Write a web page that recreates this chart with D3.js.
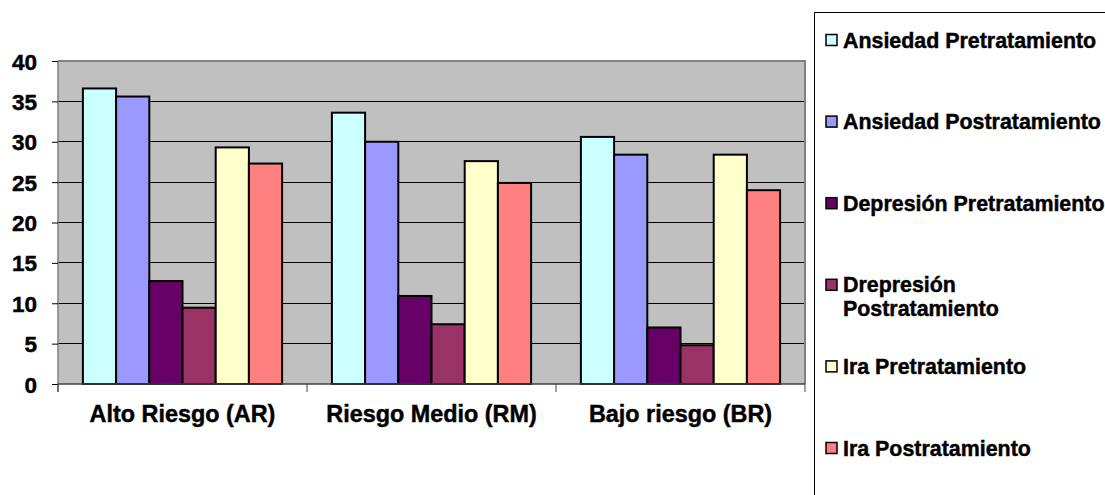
<!DOCTYPE html>
<html><head><meta charset="utf-8">
<script src="https://cdn.jsdelivr.net/npm/d3@7"></script>
<style>
html,body{margin:0;padding:0;background:#fff;}
svg{display:block;}
text{font-family:"Liberation Sans",Arial,sans-serif;font-weight:bold;fill:#000;stroke:#000;stroke-width:0.45px;}
</style></head>
<body>
<svg id="chart" width="1105" height="495"></svg>
<script>
const categories = ["Alto Riesgo (AR)", "Riesgo Medio (RM)", "Bajo riesgo (BR)"];
const seriesNames = ["Ansiedad Pretratamiento", "Ansiedad Postratamiento", "Depresión Pretratamiento", "Drepresión Postratamiento", "Ira Pretratamiento", "Ira Postratamiento"];
const legendLines = [["Ansiedad Pretratamiento"], ["Ansiedad Postratamiento"], ["Depresión Pretratamiento"], ["Drepresión", "Postratamiento"], ["Ira Pretratamiento"], ["Ira Postratamiento"]];
const ansiedadPre  = [36.6, 33.6, 30.6];
const ansiedadPost = [35.6, 30.0, 28.4];
const depresionPre = [12.75, 10.9, 7.0];
const depresionPost= [9.45, 7.4, 4.8];
const iraPre       = [29.3, 27.6, 28.4];
const iraPost      = [27.3, 24.9, 24.0];
const seriesValues = [ansiedadPre, ansiedadPost, depresionPre, depresionPost, iraPre, iraPost];
const colors = ["#CCFFFF", "#9999FF", "#660066", "#993366", "#FFFFCC", "#FF8080"];
const yTicks = [0, 5, 10, 15, 20, 25, 30, 35, 40];

const svg = d3.select("#chart");
const pL = 58, pR = 805, pT = 61, pB = 384;

const x0 = d3.scaleBand().domain(categories).range([pL, pR]).paddingInner(0).paddingOuter(0);
const x1 = d3.scaleBand().domain(seriesNames).range([0, x0.bandwidth()]).paddingInner(0).paddingOuter(0.75);
const y = d3.scaleLinear().domain([0, 40]).range([pB, pT]);

// plot background
svg.append("rect").attr("x", pL).attr("y", pT).attr("width", pR - pL).attr("height", pB - pT)
  .attr("fill", "#C0C0C0");

// gridlines
svg.append("g").selectAll("line").data(yTicks.filter(d => d > 0 && d < 40)).join("line")
  .attr("x1", pL).attr("x2", pR).attr("y1", d => y(d)).attr("y2", d => y(d))
  .attr("stroke", "#000").attr("stroke-width", 1).attr("shape-rendering", "crispEdges");

// plot border (top & right)
svg.append("path").attr("d", `M${pL},${pT}H${pR}V${pB}`)
  .attr("fill", "none").attr("stroke", "#808080").attr("stroke-width", 2);

// bars
const data = [];
categories.forEach((c, ci) => seriesNames.forEach((s, si) => data.push({c, s, si, v: seriesValues[si][ci]})));
svg.append("g").selectAll("rect").data(data).join("rect")
  .attr("x", d => x0(d.c) + x1(d.s))
  .attr("y", d => y(d.v))
  .attr("width", x1.bandwidth())
  .attr("height", d => y(0) - y(d.v))
  .attr("fill", d => colors[d.si])
  .attr("stroke", "#000").attr("stroke-width", 2);

// y axis
const yAxis = d3.axisLeft(y).tickValues(yTicks).tickSize(6).tickPadding(15).tickFormat(d3.format("d"));
const gy = svg.append("g").attr("transform", `translate(${pL},0)`).call(yAxis);
gy.select(".domain").attr("stroke", "#808080").attr("stroke-width", 1.5).attr("d", `M0,${pT}V${pB + 8}`);
gy.selectAll(".tick line").attr("stroke", "#000");
gy.selectAll(".tick text").attr("font-size", "22.5px").attr("font-family", "Liberation Sans, Arial, sans-serif")
  .attr("font-weight", "bold").attr("fill", "#000").attr("dy", "0.36em");

// x axis
const xAxis = d3.axisBottom(x0).tickSize(0).tickPadding(21);
const gx = svg.append("g").attr("transform", `translate(0,${pB})`).call(xAxis);
gx.select(".domain").attr("stroke", "#404040").attr("stroke-width", 1.5).attr("d", `M${pL},0H${pR}`);
gx.selectAll(".tick text").attr("font-size", "23.4px").attr("font-family", "Liberation Sans, Arial, sans-serif")
  .attr("font-weight", "bold").attr("fill", "#000").attr("dy", "0.71em");
// category separator ticks
const sepTicks = categories.map(c => x0(c)).concat([x0(categories[categories.length - 1]) + x0.bandwidth()]);
gx.append("g").selectAll("line").data(sepTicks).join("line")
  .attr("x1", d => d).attr("x2", d => d).attr("y1", 0).attr("y2", 8)
  .attr("stroke", "#404040").attr("stroke-width", 1);

// legend
const lg = svg.append("g");
lg.append("rect").attr("x", 814.5).attr("y", 12.5).attr("width", 300).attr("height", 500)
  .attr("fill", "#fff").attr("stroke", "#000").attr("stroke-width", 1);
const ly = d3.scaleLinear().domain([0, 5]).range([40, 448]);
const items = lg.selectAll("g.item").data(seriesNames).join("g").attr("class", "item")
  .attr("transform", (d, i) => `translate(0,${ly(i)})`);
items.append("rect").attr("x", 826).attr("y", -5.5).attr("width", 11).attr("height", 11)
  .attr("fill", (d, i) => colors[i]).attr("stroke", "#000").attr("stroke-width", 1.5);
items.each(function(d, i) {
  const t = d3.select(this).append("text").attr("x", 843).attr("font-size", "21.4px");
  legendLines[i].forEach((ln, k) => {
    t.append("tspan").attr("x", 843).attr("y", k * 24).attr("dy", "0.35em").text(ln);
  });
});
</script>
</body></html>
